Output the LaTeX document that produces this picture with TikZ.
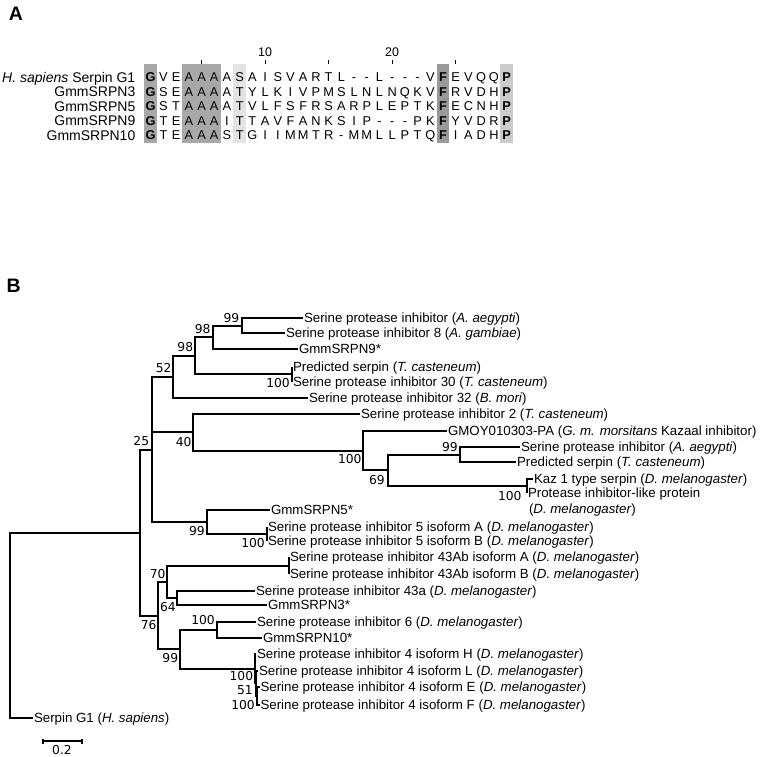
\documentclass[tikz,border=0pt]{standalone}
\usepackage{fontspec}
\setmainfont{Liberation Sans}
\newfontfamily\dvfont{DejaVu Sans}
\definecolor{shA}{HTML}{A8A8A8}
\definecolor{shF}{HTML}{999999}
\definecolor{shP}{HTML}{CBCBCB}
\definecolor{shL}{HTML}{E3E3E3}
\newcommand\aacol[1]{\ifnum#1=1 \bfseries\fi\ifnum#1=24 \bfseries\fi\ifnum#1=29 \bfseries\fi}
\begin{document}
\begin{tikzpicture}[x=1pt,y=-1pt,
  br/.style={line width=2pt},
  leaf/.style={anchor=west, inner sep=0.8pt, font=\fontsize{13.3}{15}\selectfont, text height=9.4pt, text depth=0pt},
  bs/.style={anchor=east, inner sep=0pt, font=\dvfont\fontsize{12.3}{14}\selectfont, text height=9pt, text depth=0pt},
  rowlab/.style={anchor=east, inner sep=0pt, font=\fontsize{14}{16}\selectfont, text height=10pt, text depth=0pt},
  aa/.style={anchor=center, inner sep=0pt, font=\fontsize{12.8}{14}\selectfont, text height=9.2pt, text depth=0pt},
  num/.style={anchor=center, inner sep=0pt, font=\fontsize{12.5}{14}\selectfont, text height=9pt, text depth=0pt},
  panel/.style={anchor=base, inner sep=0pt, font=\bfseries\fontsize{19.5}{21}\selectfont},
  tickm/.style={line width=1pt}
]
\useasboundingbox (0,0) rectangle (760,757);

% ---------------- Panel A ----------------
\node[panel] (labA) at (15.8,20.7) {A};

% shading
\fill[shA] ({150.7-6.35},64.5) rectangle ({150.7+6.35},143);
\fill[shA] ({150.7+3*12.71-6.35},64.5) rectangle ({150.7+5*12.71+6.35},143);
\fill[shL] ({150.7+7*12.71-6.35},64.5) rectangle ({150.7+7*12.71+6.35},143);
\fill[shF] ({150.7+23*12.71-6.35},64.5) rectangle ({150.7+23*12.71+6.35},143);
\fill[shP] ({150.7+28*12.71-6.35},64.5) rectangle ({150.7+28*12.71+6.35},143);

% ruler
\foreach \i in {5,10,15,20,25}
  \draw[tickm] ({150.7+(\i-1)*12.71},60.5) -- ++(0,4);
\node[num] (t10) at ({150.7+9*12.71},51.7) {10};
\node[num] (t20) at ({150.7+19*12.71},51.7) {20};

% row labels
\node[rowlab] (rl1) at (135.5,77.3) {\textit{H. sapiens} Serpin G1};
\node[rowlab] (rl2) at (135.5,91.8) {GmmSRPN3};
\node[rowlab] (rl3) at (135.5,106.3) {GmmSRPN5};
\node[rowlab] (rl4) at (135.5,120.8) {GmmSRPN9};
\node[rowlab] (rl5) at (135.5,135.3) {GmmSRPN10};

% sequences
\foreach \c [count=\i] in {G,V,E,A,A,A,A,S,A,I,S,V,A,R,T,L,-,-,L,-,-,-,V,F,E,V,Q,Q,P}
  \node[aa] (ra\i) at ({150.7+(\i-1)*12.71},77.3) {\aacol{\i}\c};
\foreach \c [count=\i] in {G,S,E,A,A,A,A,T,Y,L,K,I,V,P,M,S,L,N,L,N,Q,K,V,F,R,V,D,H,P}
  \node[aa] (rb\i) at ({150.7+(\i-1)*12.71},91.8) {\aacol{\i}\c};
\foreach \c [count=\i] in {G,S,T,A,A,A,A,T,V,L,F,S,F,R,S,A,R,P,L,E,P,T,K,F,E,C,N,H,P}
  \node[aa] (rc\i) at ({150.7+(\i-1)*12.71},106.3) {\aacol{\i}\c};
\foreach \c [count=\i] in {G,T,E,A,A,A,I,T,T,A,V,F,A,N,K,S,I,P,-,-,-,P,K,F,Y,V,D,R,P}
  \node[aa] (rd\i) at ({150.7+(\i-1)*12.71},120.8) {\aacol{\i}\c};
\foreach \c [count=\i] in {G,T,E,A,A,A,S,T,G,I,I,M,M,T,R,-,M,M,L,L,P,T,Q,F,I,A,D,H,P}
  \node[aa] (re\i) at ({150.7+(\i-1)*12.71},135.3) {\aacol{\i}\c};

% ---------------- Panel B ----------------
\node[panel] (labB) at (13.7,292.3) {B};

% internal nodes
\coordinate (n99a) at (242,326);
\coordinate (n98a) at (213,337);
\coordinate (n100a) at (292,374);
\coordinate (n98b) at (195,356);
\coordinate (n52) at (173,377);
\coordinate (n99b) at (460,455);
\coordinate (nkaz) at (527,486);
\coordinate (n69) at (388,470);
\coordinate (n100b) at (363,451);
\coordinate (n40) at (193,432);
\coordinate (n100c) at (267,534);
\coordinate (n99c) at (207,522);
\coordinate (n25) at (152,450);
\coordinate (n43ab) at (289,566);
\coordinate (n64) at (177,598);
\coordinate (n70) at (167,582);
\coordinate (n100d) at (217,630);
\coordinate (nR) at (257,696);
\coordinate (nQ) at (256,683);
\coordinate (nP) at (255,669);
\coordinate (n99d) at (180,649);
\coordinate (n76) at (158,616);
\coordinate (nX) at (140,533);
\coordinate (root) at (10,625);

% leaves
\node[leaf] (l1) at (303,318) {Serine protease inhibitor (\textit{A. aegypti})};
\node[leaf] (l2) at (285,333) {Serine protease inhibitor 8 (\textit{A. gambiae})};
\node[leaf] (l3) at (298,349) {GmmSRPN9*};
\node[leaf] (l4) at (292,367) {Predicted serpin (\textit{T. casteneum})};
\node[leaf] (l5) at (292,382) {Serine protease inhibitor 30 (\textit{T. casteneum})};
\node[leaf] (l6) at (308,398) {Serine protease inhibitor 32 (\textit{B. mori})};
\node[leaf] (l7) at (360,414) {Serine protease inhibitor 2 (\textit{T. casteneum})};
\node[leaf] (l8) at (447,431) {GMOY010303-PA (\textit{G. m. morsitans} Kazaal inhibitor)};
\node[leaf] (l9) at (520,447) {Serine protease inhibitor (\textit{A. aegypti})};
\node[leaf] (l10) at (516,462) {Predicted serpin (\textit{T. casteneum})};
\node[leaf] (l11) at (533,479) {Kaz 1 type serpin (\textit{D. melanogaster})};
\node[leaf] (l12) at (527,493) {Protease inhibitor-like protein};
\node[leaf] (l12b) at (528,509) {(\textit{D. melanogaster})};
\node[leaf] (l13) at (270,510) {GmmSRPN5*};
\node[leaf] (l14) at (267,527) {Serine protease inhibitor 5 isoform A (\textit{D. melanogaster})};
\node[leaf] (l15) at (267,541) {Serine protease inhibitor 5 isoform B (\textit{D. melanogaster})};
\node[leaf] (l16) at (289,557) {Serine protease inhibitor 43Ab isoform A (\textit{D. melanogaster})};
\node[leaf] (l17) at (289,574) {Serine protease inhibitor 43Ab isoform B (\textit{D. melanogaster})};
\node[leaf] (l18) at (255,591) {Serine protease inhibitor 43a (\textit{D. melanogaster})};
\node[leaf] (l19) at (267,605) {GmmSRPN3*};
\node[leaf] (l20) at (256,622) {Serine protease inhibitor 6 (\textit{D. melanogaster})};
\node[leaf] (l21) at (262,638) {GmmSRPN10*};
\node[leaf] (l22) at (256,654) {Serine protease inhibitor 4 isoform H (\textit{D. melanogaster})};
\node[leaf] (l23) at (258,671) {Serine protease inhibitor 4 isoform L (\textit{D. melanogaster})};
\node[leaf] (l24) at (259.5,687) {Serine protease inhibitor 4 isoform E (\textit{D. melanogaster})};
\node[leaf] (l25) at (259.5,705) {Serine protease inhibitor 4 isoform F (\textit{D. melanogaster})};
\node[leaf] (l26) at (33,718) {Serpin G1 (\textit{H. sapiens})};

% branches
\draw[br] (n99a) |- (l1.west);  \draw[br] (n99a) |- (l2.west);
\draw[br] (n98a) |- (n99a);     \draw[br] (n98a) |- (l3.west);
\draw[br] (n100a) |- (l4.west); \draw[br] (n100a) |- (l5.west);
\draw[br] (n98b) |- (n98a);     \draw[br] (n98b) |- (n100a);
\draw[br] (n52) |- (n98b);      \draw[br] (n52) |- (l6.west);
\draw[br] (n99b) |- (l9.west);  \draw[br] (n99b) |- (l10.west);
\draw[br] (nkaz) |- (l11.west); \draw[br] (nkaz) |- (l12.west);
\draw[br] (n69) |- (n99b);      \draw[br] (n69) |- (nkaz);
\draw[br] (n100b) |- (l8.west); \draw[br] (n100b) |- (n69);
\draw[br] (n40) |- (l7.west);   \draw[br] (n40) |- (n100b);
\draw[br] (n100c) |- (l14.west); \draw[br] (n100c) |- (l15.west);
\draw[br] (n99c) |- (l13.west); \draw[br] (n99c) |- (n100c);
\draw[br] (n25) |- (n52); \draw[br] (n25) |- (n40); \draw[br] (n25) |- (n99c);
\draw[br] (n43ab) |- (l16.west); \draw[br] (n43ab) |- (l17.west);
\draw[br] (n64) |- (l18.west);  \draw[br] (n64) |- (l19.west);
\draw[br] (n70) |- (n43ab);     \draw[br] (n70) |- (n64);
\draw[br] (n100d) |- (l20.west); \draw[br] (n100d) |- (l21.west);
\draw[br] (nR) |- (l24.west);   \draw[br] (nR) |- (l25.west);
\draw[br] (nQ) |- (l23.west);   \draw[br] (nQ) |- (nR);
\draw[br] (nP) |- (l22.west);   \draw[br] (nP) |- (nQ);
\draw[br] (n99d) |- (n100d);    \draw[br] (n99d) |- (nP);
\draw[br] (n76) |- (n70);       \draw[br] (n76) |- (n99d);
\draw[br] (nX) |- (n25);        \draw[br] (nX) |- (n76);
\draw[br] (root) |- (nX);       \draw[br] (root) |- (l26.west);

% bootstrap values
\node[bs] (b1) at (239.5,318) {99};
\node[bs] (b2) at (210.7,329.3) {98};
\node[bs] (b3) at (193.3,347.3) {98};
\node[bs] (b4) at (171.7,368.3) {52};
\node[bs] (b5) at (290,382.7) {100};
\node[bs] (b6) at (149.3,440.7) {25};
\node[bs] (b7) at (191.7,441.7) {40};
\node[bs] (b8) at (361.7,459.3) {100};
\node[bs] (b9) at (458,447) {99};
\node[bs] (b10) at (385,480) {69};
\node[bs] (b11) at (521.7,496) {100};
\node[bs] (b12) at (205,530.7) {99};
\node[bs] (b13) at (265,543.3) {100};
\node[bs] (b14) at (165.7,574) {70};
\node[bs] (b15) at (176,606.7) {64};
\node[bs] (b16) at (156.7,625) {76};
\node[bs] (b17) at (215,620) {100};
\node[bs] (b18) at (178.3,657.7) {99};
\node[bs] (b19) at (253.3,676) {100};
\node[bs] (b20) at (253,690) {51};
\node[bs] (b21) at (255,705) {100};

% scale bar
\coordinate (sb1) at (43,741);
\coordinate (sb2) at (82,741);
\draw[line width=1.5pt] (sb1) -- (sb2);
\draw[line width=1.2pt] ([yshift=2.5pt]sb1) -- ([yshift=-2.5pt]sb1);
\draw[line width=1.2pt] ([yshift=2.5pt]sb2) -- ([yshift=-2.5pt]sb2);
\node[bs, anchor=center] (sbl) at (62,749.5) {0.2};
\end{tikzpicture}
\end{document}
